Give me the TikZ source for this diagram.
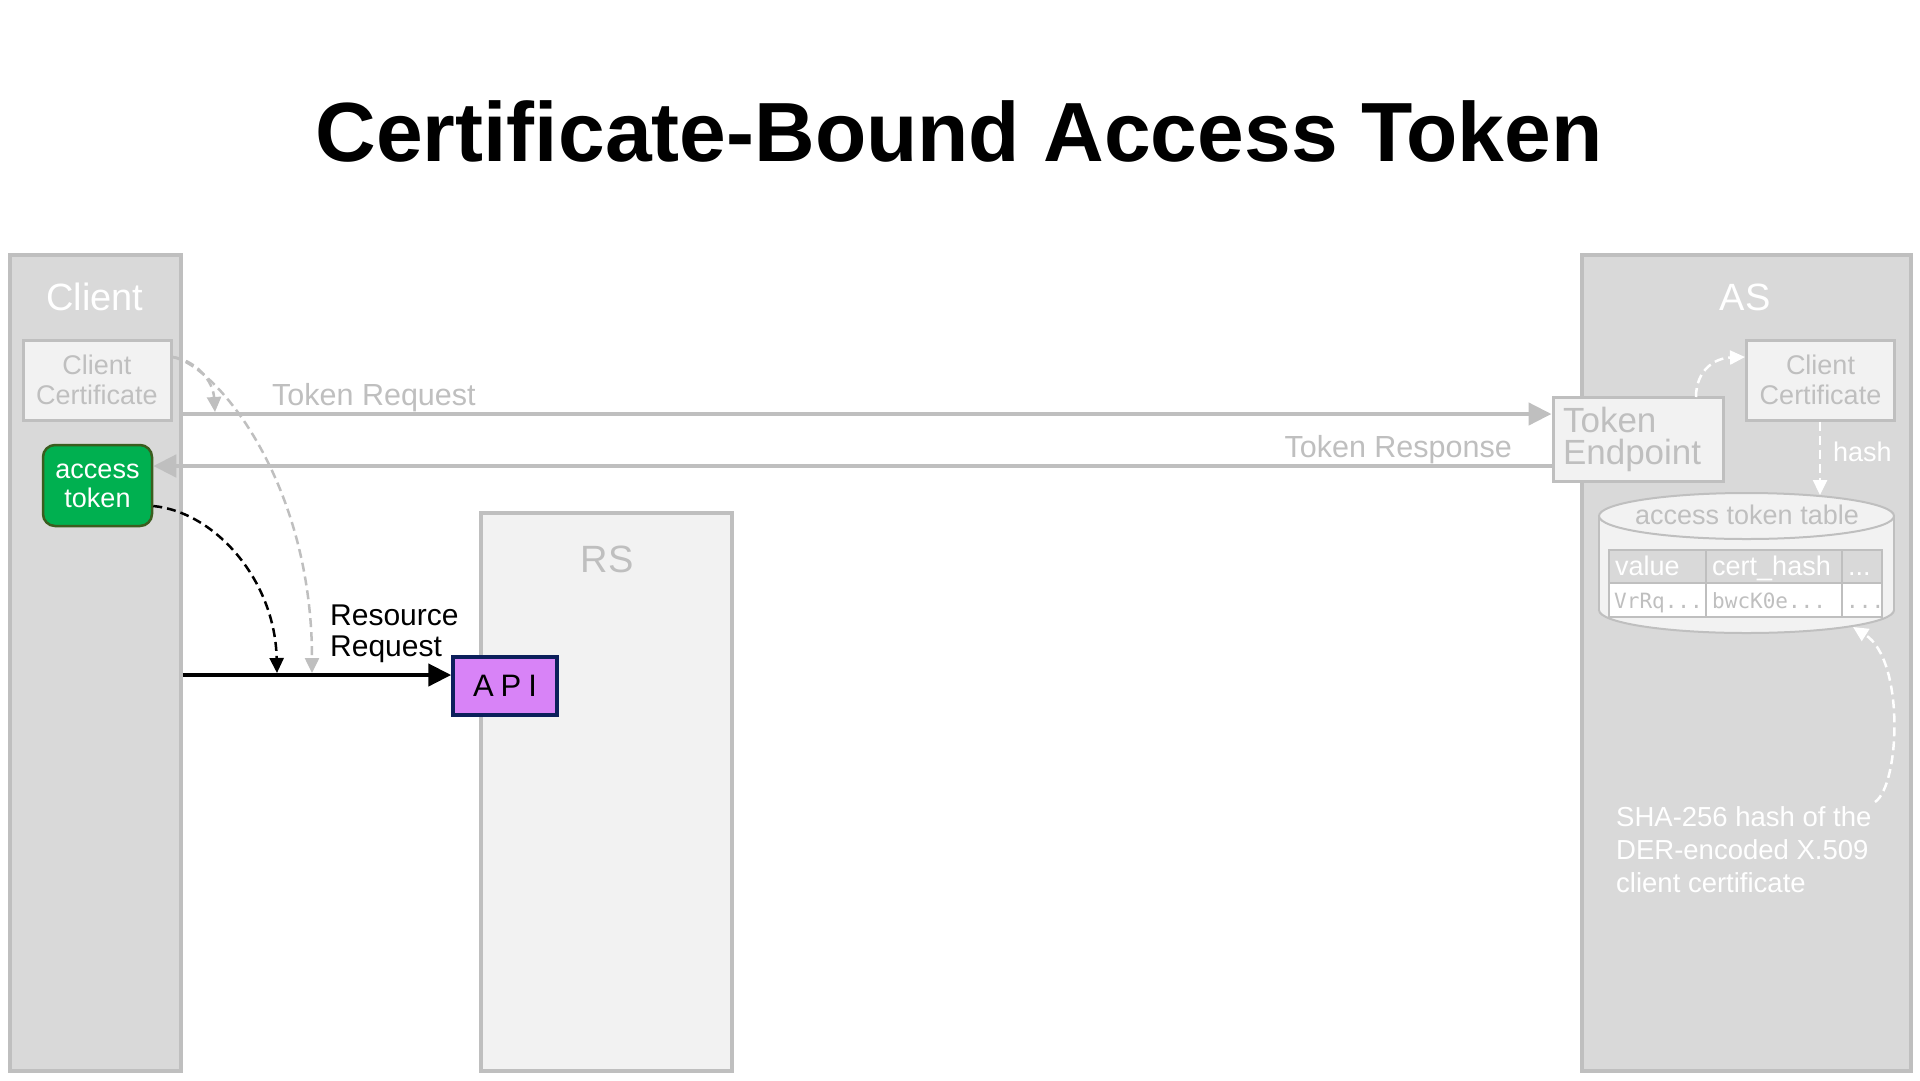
\documentclass[tikz,border=0pt]{standalone}
\usepackage{fontspec}
\setmainfont{Liberation Sans}
\newfontfamily\tablemono{DejaVu Sans Mono}
\usetikzlibrary{arrows.meta}
\definecolor{panelgray}{HTML}{D9D9D9}
\definecolor{edgegray}{HTML}{BFBFBF}
\definecolor{paper}{HTML}{F2F2F2}
\definecolor{tokengreen}{HTML}{00B050}
\definecolor{tokenedge}{HTML}{3B5D1F}
\definecolor{apiviolet}{HTML}{D883F7}
\definecolor{apiedge}{HTML}{0C1F5B}
\newcommand{\fs}[2]{\fontsize{#1}{#2}\selectfont}

\begin{document}
\begin{tikzpicture}[x=1pt, y=-1pt,
	panel/.style={draw=edgegray, fill=panelgray, line width=3.5pt, inner sep=0pt},
	paneltitle/.style={text=white, font=\fs{38}{40}, inner sep=0pt},
	certbox/.style={draw=edgegray, fill=paper, line width=3pt, text=edgegray, align=center, font=\fs{27}{30}, minimum width=148pt, minimum height=80pt, inner sep=0pt},
	flowlabel/.style={text=edgegray, font=\fs{30.5}{32}, inner sep=0pt},
	flow/.style={draw=edgegray, line width=4.5pt, -{Triangle[length=23pt,width=22pt]}},
	hint/.style={dash pattern=on 9pt off 5pt, line width=2.5pt, -{Triangle[length=15pt,width=14pt]}},
	cell/.style={draw=edgegray, line width=1.5pt},
	celltext/.style={anchor=base west, inner sep=0pt}]

	\fill[white] (0,0) rectangle (1920,1080);
	\useasboundingbox (0,0) rectangle (1920,1080);

	\node[font=\fs{84}{90}\bfseries, inner sep=0pt](title) at (959,131){Certificate-Bound Access Token};

	% panels
	\node[panel, minimum width=171pt, minimum height=816pt](client) at (95.5,663){};
	\node[panel, minimum width=329pt, minimum height=816pt](as) at (1746.5,663){};
	\node[panel, fill=paper, minimum width=251pt, minimum height=558pt](rs) at (606.5,792){};
	\node[paneltitle](clienttitle) at (95,297){Client};
	\node[paneltitle](astitle) at (1745,297){AS};
	\node[paneltitle, text=edgegray](rstitle) at (607,559){RS};

	% client side
	\node[certbox](clientcert) at (97,380){Client\\Certificate};
	\node[draw=tokenedge, fill=tokengreen, line width=2.5pt, rounded corners=12pt, text=white, align=center, font=\fs{27}{29}, minimum width=109pt, minimum height=81pt, inner sep=0pt](token) at (97.5,485.5){access\\token};

	% RS side
	\node[draw=apiedge, fill=apiviolet, line width=3.5pt, font=\fs{31}{32}, minimum width=104pt, minimum height=58pt, inner sep=0pt](api) at (505,686){A\kern7pt P\kern7pt I};

	% AS side
	\node[draw=edgegray, fill=paper, line width=3pt, text=edgegray, align=left, font=\fs{35}{32}, text width=150pt, inner xsep=10pt, inner ysep=0pt, minimum height=84pt](tokenep) at (1638,439){Token\\Endpoint};
	\node[certbox](ascert) at (1820.5,380){Client\\Certificate};

	% access token table
	\filldraw[draw=edgegray, fill=paper, line width=2pt] (1746.5,610) ellipse [x radius=147.5pt, y radius=23pt];
	\fill[paper] (1599,516) rectangle (1894,610);
	\draw[edgegray, line width=2pt] (1599,516) -- (1599,610) (1894,516) -- (1894,610);
	\filldraw[draw=edgegray, fill=paper, line width=2pt] (1746.5,516) ellipse [x radius=147.5pt, y radius=23pt];
	\node[text=edgegray, font=\fs{27}{29}, inner sep=0pt](tablename) at (1747,515){access token table};
	\coordinate (tabletop) at (1820,495);
	\coordinate (tablebottom) at (1853,627);

	\filldraw[cell, fill=panelgray] (1609,550) rectangle (1706,583) (1706,550) rectangle (1842,583) (1842,550) rectangle (1882,583);
	\filldraw[cell, fill=white] (1609,583) rectangle (1706,617) (1706,583) rectangle (1842,617) (1842,583) rectangle (1882,617);
	\node[celltext, text=white, font=\fs{27}{29}] at (1615,575){value};
	\node[celltext, text=white, font=\fs{27}{29}] at (1712,575){cert\_hash};
	\node[celltext, text=white, font=\fs{27}{29}] at (1848,575){...};
	\node[celltext, text=edgegray, font=\tablemono\fs{21}{24}] at (1614,608){VrRq...};
	\node[celltext, text=edgegray, font=\tablemono\fs{21}{24}] at (1712,608){bwcK0e...};
	\node[celltext, text=edgegray, font=\tablemono\fs{21}{24}] at (1846,608){...};

	\node[anchor=west, text=white, font=\fs{27}{29}, inner sep=0pt](hashlabel) at (1833,452){hash};
	\node[anchor=north west, align=left, text=white, font=\fs{27.5}{33}, inner sep=0pt](shanote) at (1616,806){SHA-256 hash of the\\DER-encoded X.509\\client certificate};

	% token request / response
	\coordinate (reqend) at ([yshift=25pt]tokenep.west);
	\coordinate (respend) at ([yshift=19.5pt]token.east);
	\draw[flow] (client.east |- reqend) -- (reqend);
	\draw[flow] (tokenep.west |- respend) -- (respend);
	\node[flowlabel, anchor=base west](reqlabel) at (272,405){Token Request};
	\node[flowlabel, anchor=base east](resplabel) at (1512,457){Token Response};

	% resource request
	\coordinate (apiin) at ([yshift=11pt]api.west);
	\draw[line width=4.5pt, -{Triangle[length=23pt,width=22pt]}] (client.east |- apiin) -- (apiin);
	\node[anchor=south west, align=left, font=\fs{30}{31}, inner sep=0pt](rrlabel) at (330,663){Resource\\Request};

	% dashed hints
	\coordinate (certout) at ([yshift=23pt]clientcert.east);
	\coordinate (reqhit) at (215,412);
	\coordinate (tokhit) at (277,673);
	\coordinate (certhit) at (312,673);
	\draw[hint, edgegray] (certout) .. controls (195,360) and (213,380) .. (reqhit);
	\draw[hint, edgegray] (certout) .. controls (215,365) and (312,480) .. (certhit);
	\draw[hint, black] (token.east |- 0,506) .. controls (215,512) and (275,580) .. (tokhit);
	\draw[hint, white] (1696,397) .. controls (1696,370) and (1715,358) .. (ascert.west |- 0,357);
	\draw[hint, white] (ascert.south -| tabletop) -- (tabletop);
	\draw[hint, white] (1875,802) .. controls (1900,785) and (1905,660) .. (tablebottom);
\end{tikzpicture}
\end{document}
